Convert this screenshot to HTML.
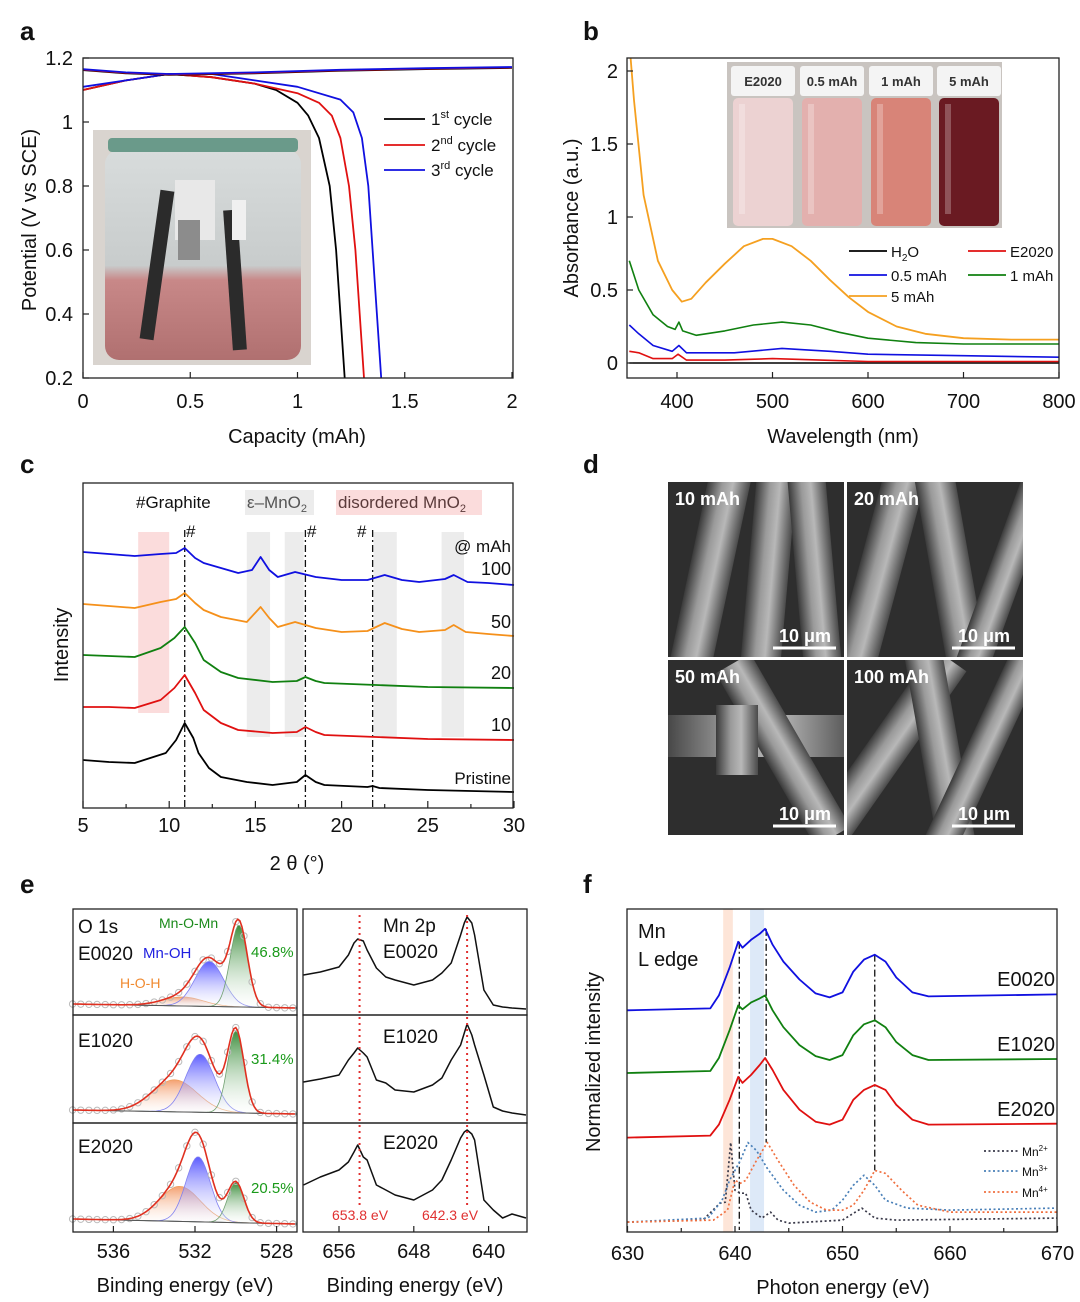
<!DOCTYPE html>
<html><head><meta charset="utf-8">
<style>
html,body{margin:0;padding:0;background:#fff;}
svg{display:block;font-family:"Liberation Sans",sans-serif;}
</style></head>
<body>
<svg id="fig" width="1080" height="1302" viewBox="0 0 1080 1302" xmlns="http://www.w3.org/2000/svg">
<defs>
 <clipPath id="clipB"><rect x="627" y="58" width="432" height="320"/></clipPath>
 <linearGradient id="fib" x1="0" y1="0" x2="1" y2="0"><stop offset="0" stop-color="#3a3a3a"/><stop offset="0.35" stop-color="#9a9a9a"/><stop offset="0.6" stop-color="#b8b8b8"/><stop offset="1" stop-color="#4a4a4a"/></linearGradient>
 <linearGradient id="gBlue" x1="0" y1="0" x2="0" y2="1"><stop offset="0" stop-color="#4040ff" stop-opacity="0.85"/><stop offset="1" stop-color="#ffffff" stop-opacity="0.2"/></linearGradient>
 <linearGradient id="gGreen" x1="0" y1="0" x2="0" y2="1"><stop offset="0" stop-color="#1a7a1a" stop-opacity="0.85"/><stop offset="1" stop-color="#ffffff" stop-opacity="0.2"/></linearGradient>
 <linearGradient id="gOrange" x1="0" y1="0" x2="0" y2="1"><stop offset="0" stop-color="#f08040" stop-opacity="0.75"/><stop offset="1" stop-color="#ffffff" stop-opacity="0.2"/></linearGradient>
 <linearGradient id="jar" x1="0" y1="0" x2="0" y2="1"><stop offset="0" stop-color="#d8dcdc"/><stop offset="0.55" stop-color="#c8cccc"/><stop offset="0.62" stop-color="#c88888"/><stop offset="1" stop-color="#b07070"/></linearGradient>
</defs>
</svg>
<script>
// ---------- panel a data ----------
const aCap1=[0,0.2,0.4,0.6,0.8,0.9,1.0,1.05,1.1,1.15,1.18,1.2,1.22];
const aPot1=[1.10,1.13,1.15,1.14,1.12,1.10,1.06,1.02,0.95,0.80,0.60,0.40,0.20];
const aCap2=[0,0.2,0.4,0.6,0.8,1.0,1.1,1.16,1.2,1.24,1.27,1.29,1.31];
const aPot2=[1.10,1.13,1.15,1.14,1.12,1.09,1.06,1.02,0.95,0.80,0.60,0.40,0.20];
const aCap3=[0,0.2,0.4,0.6,0.8,1.0,1.2,1.26,1.3,1.33,1.35,1.37,1.39];
const aPot3=[1.11,1.13,1.15,1.15,1.13,1.11,1.07,1.03,0.95,0.80,0.60,0.40,0.20];
const aChgCap=[0,0.2,0.4,0.8,1.2,1.6,2.0];
const aChgPot=[1.165,1.155,1.15,1.155,1.163,1.168,1.172];
const aXTicks=[0,0.5,1,1.5,2];
const aYTicks=[0.2,0.4,0.6,0.8,1,1.2];
// ---------- panel b data ----------
const bWl5=[350,355,365,380,395,405,415,430,450,470,490,500,520,540,560,580,600,630,660,700,750,800];
const bAb5=[2.2,1.8,1.15,0.7,0.5,0.42,0.44,0.55,0.68,0.8,0.85,0.85,0.8,0.7,0.57,0.45,0.35,0.25,0.2,0.17,0.16,0.16];
const bWl1=[350,360,375,390,398,402,406,420,450,480,510,540,570,600,650,700,800];
const bAb1=[0.7,0.5,0.33,0.25,0.23,0.28,0.22,0.19,0.22,0.26,0.28,0.26,0.21,0.17,0.14,0.13,0.13];
const bWl05=[350,360,375,395,402,410,430,460,510,560,600,700,800];
const bAb05=[0.26,0.2,0.12,0.08,0.12,0.07,0.07,0.07,0.1,0.08,0.06,0.05,0.04];
const bWlE=[350,360,375,395,401,410,450,500,550,600,700,800];
const bAbE=[0.08,0.07,0.03,0.03,0.06,0.02,0.02,0.03,0.02,0.01,0.01,0.01];
const bWlH=[350,800];
const bAbH=[0,0];
const bXTicks=[400,500,600,700,800];
const bYTicks=[0,0.5,1,1.5,2];
// ---------- panel c data (2θ, intensity a.u.) ----------
const cTh100=[5,6.5,8,9.5,10.4,10.9,11.5,12,13,14,14.8,15.3,15.8,16.3,17.3,18.5,20,21.5,22.5,23.5,24.5,26,26.5,27.3,28.5,30];
const cI100=[256,254,252,254,255,260,250,245,240,235,238,251,238,231,236,231,228,228,233,228,226,229,233,226,225,223];
const cTh50=[5,6.5,8,9.5,10.4,10.9,11.5,12,13,14.5,15.3,15.8,16.3,17.3,18.5,20,21.5,22.5,23.5,24.5,26,26.5,27.2,28.5,30];
const cI50=[204,202,200,206,209,215,205,198,191,186,201,190,181,186,180,176,177,185,179,176,178,183,176,174,172];
const cTh20=[5,6.5,8,9.5,10.3,10.9,11.5,12,13,14,16,17.4,17.9,18.5,19,22,25,30];
const cI20=[153,152,151,160,170,181,165,148,136,130,126,127,131,127,125,123,121,120];
const cTh10=[5,6.5,8,9.5,10.3,10.9,11.5,12,13,14,16,17.4,17.9,18.5,19,22,25,30];
const cI10=[101,101,100,108,120,133,115,98,85,78,75,76,81,76,73,71,69,68];
const cTh0=[5,6.5,8,9.8,10.4,10.9,11.4,11.7,12.3,13,14.5,16,17.4,17.9,18.5,19,21.5,21.8,22.2,25,30];
const cI0=[48,46,45,55,68,85,70,55,40,31,26,23,26,33,26,23,21,22,20,18,16];
const cXTicks=[5,10,15,20,25,30];
// ---------- panel e data ----------
const eMnE=[659.8,658,656,655,654.4,654,653.4,653,652,651,650,648,646,645,644,643,642.6,642.3,641.8,641.5,640.5,639.5,638.5,637.5,636];
const eMn0=[40,43,48,60,72,76,74,65,47,38,35,30,35,42,52,80,92,98,92,80,25,10,8,7,6];
const eMn1=[41,44,48,63,70,75,70,66,43,40,33,31,38,45,63,78,90,99,88,78,48,16,12,10,8];
const eMn2=[47,55,62,70,80,87,75,72,47,42,37,32,42,52,72,94,100,102,98,92,32,22,14,18,14];
const eOeTicks=[536,532,528];
const eMnTicks=[656,648,640];
const eCent0=[532.6,531.3,529.85];
const eAmp0=[9,45,82];
const eWid0=[1.0,0.7,0.42];
const eCent1=[533.0,531.75,530.0];
const eAmp1=[32,58,82];
const eWid1=[1.1,0.7,0.4];
const eCent2=[532.75,531.85,530.0];
const eAmp2=[35,65,40];
const eWid2=[1.0,0.6,0.4];
// ---------- panel f data ----------
const fE=[630,637.7,638.5,639.5,640.3,640.7,641.5,642.3,642.8,643.5,644.5,646,647.5,648.8,650,651,652,653,654,655,656.5,658,670];
const fI0=[2.23,2.25,2.38,2.66,2.92,2.86,2.94,3.0,3.05,2.89,2.72,2.54,2.40,2.36,2.41,2.62,2.74,2.79,2.72,2.56,2.41,2.37,2.39];
const fI1=[1.60,1.62,1.75,2.03,2.28,2.24,2.31,2.35,2.38,2.23,2.06,1.88,1.77,1.73,1.78,1.98,2.09,2.13,2.06,1.91,1.78,1.73,1.74];
const fI2=[0.95,0.97,1.08,1.33,1.56,1.50,1.58,1.68,1.75,1.63,1.43,1.23,1.11,1.08,1.13,1.33,1.43,1.48,1.43,1.28,1.13,1.08,1.09];
const fRE2=[630,637,638.6,639.1,639.6,640,640.5,641,641.5,642.5,643.3,644,645,650,651.8,653,655,670];
const fR2=[0.10,0.12,0.29,0.30,0.90,0.42,0.39,0.39,0.22,0.14,0.20,0.12,0.09,0.12,0.24,0.14,0.12,0.14];
const fRE3=[630,637.5,638.8,639.5,640.5,641.2,642,643,644.5,646,647.5,649,650,651,652,653,654,656,660,670];
const fR3=[0.10,0.14,0.32,0.52,0.72,0.90,0.82,0.64,0.42,0.27,0.20,0.22,0.32,0.47,0.57,0.47,0.32,0.24,0.22,0.24];
const fRE4=[630,638,639.3,640,640.5,641,642,643,644,645.5,647,648.5,650,651,652,653,654,655.5,657,660,670];
const fR4=[0.10,0.12,0.22,0.52,0.49,0.52,0.72,0.90,0.72,0.47,0.30,0.22,0.22,0.27,0.42,0.62,0.59,0.42,0.27,0.20,0.20];
const fXTicks=[630,640,650,660,670];

const NS='http://www.w3.org/2000/svg';
const svg=document.getElementById('fig');
function mk(tag,name,attrs,parent){
  const n=document.createElementNS(NS,tag);
  
  
  for(const k in attrs) n.setAttribute(k,attrs[k]);
  (parent||svg).appendChild(n);
  return n;
}
function txt(name,x,y,s,size,opts){
  opts=opts||{};
  const t=mk('text',name,{x:x,y:y,'font-size':size,fill:opts.fill||'#111','text-anchor':opts.anchor||'start','font-weight':opts.bold?'bold':'normal'},opts.parent);
  if(opts.rot) t.setAttribute('transform','rotate(-90 '+x+' '+y+')');
  t.innerHTML=s;
  return t;
}
function line(name,xs,ys,fx,fy,color,w,opts){
  opts=opts||{};
  let d='';
  for(let i=0;i<xs.length;i++) d+=(i?'L':'M')+fx(xs[i]).toFixed(1)+' '+fy(ys[i]).toFixed(1);
  const p=mk('path',name,{d:d,fill:'none',stroke:color,'stroke-width':w||1.8,'stroke-linejoin':'round'},opts.parent);
  if(opts.dash) p.setAttribute('stroke-dasharray',opts.dash);
  return p;
}
function seg(name,x1,y1,x2,y2,color,w,dash){
  const l=mk('line',name,{x1:x1,y1:y1,x2:x2,y2:y2,stroke:color,'stroke-width':w||1.2});
  if(dash) l.setAttribute('stroke-dasharray',dash);
  return l;
}
function rect(name,x,y,w,h,fill,extra){
  const r=mk('rect',name,Object.assign({x:x,y:y,width:w,height:h,fill:fill},extra||{}));
  return r;
}
function frame(name,x,y,w,h){ rect(name,x,y,w,h,'none',{stroke:'#222','stroke-width':1.3}); }

[['a',20,40],['b',583,40],['c',20,473],['d',583,473],['e',20,893],['f',583,893]].forEach(p=>{
  txt('panel-label-'+p[0],p[1],p[2],p[0],26,{bold:true});
});

// ================= PANEL A =================
const ax=v=>83+v*214.5, ay=v=>378-(v-0.2)*320;
rect('photo-background',93,130,218,235,'#d9d4cf');
rect('jar-body',105,150,196,210,'url(#jar)',{rx:14});
rect('jar-rim',108,138,190,14,'#6a9a8a',{rx:4});
rect('electrode-left',150,190,14,150,'#2b2b2b',{transform:'rotate(8 157 265)'});
rect('electrode-right',228,210,14,140,'#2b2b2b',{transform:'rotate(-4 235 280)'});
rect('clip-white',175,180,40,60,'#e8e8e8');
rect('clip-white-2',232,200,14,40,'#f0f0f0');
rect('clip-gray',178,220,22,40,'#8c8c8c');
for(const p of [[aCap1,aPot1,'#000','cycle1-discharge'],[aCap2,aPot2,'#e01010','cycle2-discharge'],[aCap3,aPot3,'#1010e0','cycle3-discharge']]){
  line(p[3],p[0],p[1],ax,ay,p[2],1.8);
}
line('cycle1-charge',aChgCap,aChgPot,ax,v=>ay(v)+1,'#000',1.6);
line('cycle2-charge',aChgCap,aChgPot,ax,v=>ay(v)+0.5,'#e01010',1.6);
line('cycle3-charge',aChgCap,aChgPot,ax,ay,'#1010e0',1.8);
frame('plot-a-frame',83,58,430,320);
aXTicks.forEach(v=>{seg('a-xtick',ax(v),378,ax(v),372,'#222');txt('a-xtick-label',ax(v),408,String(v),20,{anchor:'middle'});});
aYTicks.forEach(v=>{seg('a-ytick',83,ay(v),89,ay(v),'#222');txt('a-ytick-label',73,ay(v)+7,String(v),20,{anchor:'end'});});
txt('a-x-axis-title',297,443,'Capacity (mAh)',20,{anchor:'middle'});
txt('a-y-axis-title',36,220,'Potential (V vs SCE)',20,{anchor:'middle',rot:true});
[['1<tspan font-size="11" dy="-7">st</tspan><tspan dy="7"> cycle</tspan>','#000',119],['2<tspan font-size="11" dy="-7">nd</tspan><tspan dy="7"> cycle</tspan>','#e01010',145],['3<tspan font-size="11" dy="-7">rd</tspan><tspan dy="7"> cycle</tspan>','#1010e0',170]].forEach((l,i)=>{
  seg('a-legend-line',384,l[2],425,l[2],l[1],1.8);
  txt('a-legend-entry',431,l[2]+6,l[0],17);
});

// ================= PANEL B =================
const bx=v=>677+(v-400)*0.955, by=v=>363-v*146;
const gB=mk('g','b-series-group',{'clip-path':'url(#clipB)'});
line('series-h2o',bWlH,bAbH,bx,by,'#000',1.6,{parent:gB});
line('series-e2020',bWlE,bAbE,bx,by,'#e01010',1.6,{parent:gB});
line('series-0.5mah',bWl05,bAb05,bx,by,'#1010e0',1.6,{parent:gB});
line('series-1mah',bWl1,bAb1,bx,by,'#108010',1.6,{parent:gB});
line('series-5mah',bWl5,bAb5,bx,by,'#f5a020',1.8,{parent:gB});
frame('plot-b-frame',627,58,432,320);
bXTicks.forEach(v=>{seg('b-xtick',bx(v),378,bx(v),372,'#222');txt('b-xtick-label',bx(v),408,String(v),20,{anchor:'middle'});});
bYTicks.forEach(v=>{seg('b-ytick',627,by(v),633,by(v),'#222');txt('b-ytick-label',618,by(v)+7,String(v),20,{anchor:'end'});});
txt('b-x-axis-title',843,443,'Wavelength (nm)',20,{anchor:'middle'});
txt('b-y-axis-title',578,218,'Absorbance (a.u.)',20,{anchor:'middle',rot:true});
rect('vial-photo-bg',727,62,275,166,'#c9c4c0');
const vials=[['E2020','#ecd2d2',731],['0.5 mAh','#e3b0ae',800],['1 mAh','#d88478',869],['5 mAh','#6a1a22',937]];
vials.forEach(v=>{
  rect('vial-cap',v[2],66,64,30,'#f4f4f4',{rx:3});
  txt('vial-label',v[2]+32,86,v[0],13,{anchor:'middle',bold:true,fill:'#333'});
  rect('vial-body',v[2]+2,98,60,128,v[1],{rx:5});
  rect('vial-glare',v[2]+8,104,6,110,'#ffffff',{opacity:0.25});
});
[['H<tspan font-size="10" dy="4">2</tspan><tspan dy="-4">O</tspan>','#000',849,251],['E2020','#e01010',968,251],['0.5 mAh','#1010e0',849,275],['1 mAh','#108010',968,275],['5 mAh','#f5a020',849,296]].forEach(l=>{
  seg('b-legend-line',l[2],l[3],l[2]+38,l[3],l[1],1.8);
  txt('b-legend-entry',l[2]+42,l[3]+6,l[0],15);
});

// ================= PANEL C =================
const cx=v=>83+(v-5)*17.24, cy=v=>808-v;
rect('band-disordered-1',cx(8.2),532,cx(10)-cx(8.2),181,'#fbdcdc');
[[14.5,15.85],[16.7,17.8],[21.85,23.2],[25.8,27.1]].forEach(b=>rect('band-epsilon-mno2',cx(b[0]),532,cx(b[1])-cx(b[0]),205,'#ececec'));
[10.9,17.9,21.8].forEach(v=>seg('graphite-ref-line',cx(v),530,cx(v),808,'#111',1.3,'7,3,2,3'));
line('xrd-100mah',cTh100,cI100,cx,cy,'#1010e0',1.8);
line('xrd-50mah',cTh50,cI50,cx,cy,'#f5901a',1.8);
line('xrd-20mah',cTh20,cI20,cx,cy,'#108010',1.8);
line('xrd-10mah',cTh10,cI10,cx,cy,'#e01010',1.8);
line('xrd-pristine',cTh0,cI0,cx,cy,'#000',1.8);
frame('plot-c-frame',83,483,430,325);
cXTicks.forEach(v=>{seg('c-xtick',cx(v),808,cx(v),801,'#222');txt('c-xtick-label',cx(v),832,String(v),20,{anchor:'middle'});});
[7.5,12.5,17.5,22.5,27.5].forEach(v=>seg('c-minor-tick',cx(v),808,cx(v),804,'#222'));
txt('c-x-axis-title',297,870,'2 θ (°)',20,{anchor:'middle'});
txt('c-y-axis-title',68,645,'Intensity',20,{anchor:'middle',rot:true});
txt('label-graphite',136,508,'#Graphite',17);
rect('label-bg-epsilon',245,490,69,25,'#ececec');
txt('label-epsilon-mno2',247,508,'ε–MnO<tspan font-size="11" dy="4">2</tspan>',17,{fill:'#555'});
rect('label-bg-disordered',336,490,146,25,'#fbdcdc');
txt('label-disordered-mno2',338,508,'disordered MnO<tspan font-size="11" dy="4">2</tspan>',17,{fill:'#5a3a3a'});
[[186,537],[307,537],[357,537]].forEach(p=>txt('hash-marker',p[0],p[1],'#',17));
[['@ mAh',552],['100',575],['50',628],['20',679],['10',731],['Pristine',784]].forEach(l=>txt('trace-label',511,l[1],l[0],l[0].length>4?17:18,{anchor:'end'}));

// ================= PANEL D (SEM) =================
const sems=[[668,482,'10 mAh',[[20,-20,42,230,12],[80,-20,40,230,5],[128,-20,38,230,-5]]],[847,482,'20 mAh',[[10,-20,42,230,15],[85,-20,40,230,-10],[140,-20,34,230,20]]],[668,660,'50 mAh',[[-10,55,200,42,0],[95,-10,40,200,-30],[48,45,42,70,0]]],[847,660,'100 mAh',[[20,-20,40,220,35],[75,-10,38,210,-10],[120,-20,34,220,25]]]];
sems.forEach((s,i)=>{
  const g=mk('svg','sem-image-'+i,{x:s[0],y:s[1],width:176,height:175,overflow:'hidden'});
  mk('rect','sem-bg',{x:0,y:0,width:176,height:175,fill:'#2e2e2e'},g);
  s[3].forEach(f=>mk('rect','sem-fiber',{x:f[0],y:f[1],width:f[2],height:f[3],fill:'url(#fib)',transform:'rotate('+f[4]+' '+(f[0]+f[2]/2)+' '+(f[1]+f[3]/2)+')'},g));
  txt('sem-label',7,23,s[2],18,{bold:true,fill:'#fff',parent:g});
  mk('line','scale-bar',{x1:105,y1:166,x2:168,y2:166,stroke:'#fff','stroke-width':3},g);
  txt('scale-bar-label',137,160,'10 μm',18,{bold:true,fill:'#fff',anchor:'middle',parent:g});
});

// ================= PANEL E =================
const exO=v=>195+(532-v)*20.4, exM=v=>339+(656-v)*9.35;
const rowsB=[1015,1123,1232], rowsT=[909,1015,1123];
const oSets=[[eCent0,eAmp0,eWid0],[eCent1,eAmp1,eWid1],[eCent2,eAmp2,eWid2]];
const baseL=[1004,1110,1219], baseR=[1008,1114,1224];
const compFill=['url(#gOrange)','url(#gBlue)','url(#gGreen)'], compStroke=['#f0a060','#8080f0','#70a070'];
oSets.forEach((set,r)=>{
  const bl=e=>baseL[r]+(baseR[r]-baseL[r])*(538-e)/11;
  const es=[]; for(let e=538;e>=527;e-=0.1) es.push(+e.toFixed(2));
  set[0].forEach((c,k)=>{
    let d='M'+exO(538)+' '+bl(538);
    es.forEach(e=>{d+='L'+exO(e).toFixed(1)+' '+(bl(e)-set[1][k]*Math.exp(-((e-c)**2)/(2*set[2][k]**2))).toFixed(1);});
    d+='L'+exO(527)+' '+bl(527)+'Z';
    mk('path','o1s-component',{d:d,fill:compFill[k],stroke:compStroke[k],'stroke-width':0.8});
  });
  const env=es.map(e=>{let s=0;set[0].forEach((c,k)=>{s+=set[1][k]*Math.exp(-((e-c)**2)/(2*set[2][k]**2));});return s;});
  es.forEach((e,i)=>{if(i%4===0) mk('circle','o1s-data-point',{cx:exO(e),cy:bl(e)-env[i],r:3.2,fill:'none',stroke:'#bbb','stroke-width':1});});
  seg('o1s-baseline',exO(538),bl(538),exO(527),bl(527),'#555',1);
  mk('path','o1s-envelope',{d:es.map((e,i)=>(i?'L':'M')+exO(e).toFixed(1)+' '+(bl(e)-env[i]).toFixed(1)).join(''),fill:'none',stroke:'#e03020','stroke-width':1.6});
  frame('o1s-frame',73,rowsT[r],224,rowsB[r]-rowsT[r]);
});
[eMn0,eMn1,eMn2].forEach((arr,r)=>{
  line('mn2p-spectrum',eMnE,arr,exM,v=>rowsB[r]-v,'#111',1.5);
  frame('mn2p-frame',303,rowsT[r],224,rowsB[r]-rowsT[r]);
});
[653.8,642.3].forEach(v=>seg('mn2p-ref-line',exM(v),915,exM(v),1205,'#e03030',2,'2,4'));
eOeTicks.forEach(v=>{seg('e-xtick',exO(v),1232,exO(v),1226,'#222');txt('e-xtick-label',exO(v),1258,String(v),20,{anchor:'middle'});});
eMnTicks.forEach(v=>{seg('e-xtick',exM(v),1232,exM(v),1226,'#222');txt('e-xtick-label',exM(v),1258,String(v),20,{anchor:'middle'});});
txt('e-x-axis-title-left',185,1292,'Binding energy (eV)',20,{anchor:'middle'});
txt('e-x-axis-title-right',415,1292,'Binding energy (eV)',20,{anchor:'middle'});
txt('o1s-title',78,933,'O 1s',19);
txt('o1s-sample',78,960,'E0020',19);
txt('label-mn-oh',143,958,'Mn-OH',15,{fill:'#2020e0'});
txt('label-mn-o-mn',159,928,'Mn-O-Mn',14,{fill:'#1a8a1a'});
txt('label-h-o-h',120,988,'H-O-H',14,{fill:'#f08a30'});
txt('pct-e0020',251,957,'46.8%',15,{fill:'#1a9a1a'});
txt('o1s-sample',78,1047,'E1020',19);
txt('pct-e1020',251,1064,'31.4%',15,{fill:'#1a9a1a'});
txt('o1s-sample',78,1153,'E2020',19);
txt('pct-e2020',251,1193,'20.5%',15,{fill:'#1a9a1a'});
txt('mn2p-title',383,932,'Mn 2p',19);
txt('mn2p-sample',383,958,'E0020',19);
txt('mn2p-sample',383,1043,'E1020',19);
txt('mn2p-sample',383,1149,'E2020',19);
txt('peak-label-653',332,1220,'653.8 eV',14,{fill:'#e03030'});
txt('peak-label-642',422,1220,'642.3 eV',14,{fill:'#e03030'});

// ================= PANEL F =================
const fx=v=>627.5+(v-630)*10.75, fy=v=>1232-v*99.4;
rect('band-mn2',fx(638.9),909,fx(639.8)-fx(638.9),323,'#fde5d8');
rect('band-mn3',fx(641.4),909,fx(642.7)-fx(641.4),323,'#dde9f8');
seg('ref-line-640',fx(640.4),fy(2.92),fx(640.4),1230,'#111',1.3,'7,3,2,3');
seg('ref-line-643',fx(642.9),fy(3.05),fx(642.9),fy(0.9),'#111',1.3,'7,3,2,3');
seg('ref-line-653',fx(653),fy(2.79),fx(653),fy(0.62),'#111',1.3,'7,3,2,3');
line('ref-mn2',fRE2,fR2,fx,fy,'#3a3a4a',1.7,{dash:'2,2.5'});
line('ref-mn3',fRE3,fR3,fx,fy,'#4a80b8',1.7,{dash:'2,2.5'});
line('ref-mn4',fRE4,fR4,fx,fy,'#f07040',1.7,{dash:'2,2.5'});
line('xas-e0020',fE,fI0,fx,fy,'#1010e0',1.8);
line('xas-e1020',fE,fI1,fx,fy,'#108010',1.8);
line('xas-e2020',fE,fI2,fx,fy,'#e01010',1.8);
frame('plot-f-frame',627,909,430,323);
fXTicks.forEach(v=>{seg('f-xtick',fx(v),1232,fx(v),1226,'#222');txt('f-xtick-label',fx(v),1260,String(v),20,{anchor:'middle'});});
[635,645,655,665].forEach(v=>seg('f-minor-tick',fx(v),1232,fx(v),1228,'#222'));
txt('f-x-axis-title',843,1294,'Photon energy (eV)',20,{anchor:'middle'});
txt('f-y-axis-title',600,1062,'Normalized intensity',20,{anchor:'middle',rot:true});
txt('f-title-mn',638,938,'Mn',20);
txt('f-title-ledge',638,966,'L edge',20);
txt('f-label-e0020',1055,986,'E0020',20,{anchor:'end'});
txt('f-label-e1020',1055,1051,'E1020',20,{anchor:'end'});
txt('f-label-e2020',1055,1116,'E2020',20,{anchor:'end'});
[['2+','#3a3a4a',1151],['3+','#4a80b8',1171],['4+','#f07040',1192]].forEach(l=>{
  seg('f-legend-line',984,l[2],1020,l[2],l[1],1.7,'2,2.5');
  txt('f-legend-entry',1022,l[2]+5,'Mn<tspan font-size="8" dy="-5">'+l[0]+'</tspan>',12);
});
</script>
</body></html>
